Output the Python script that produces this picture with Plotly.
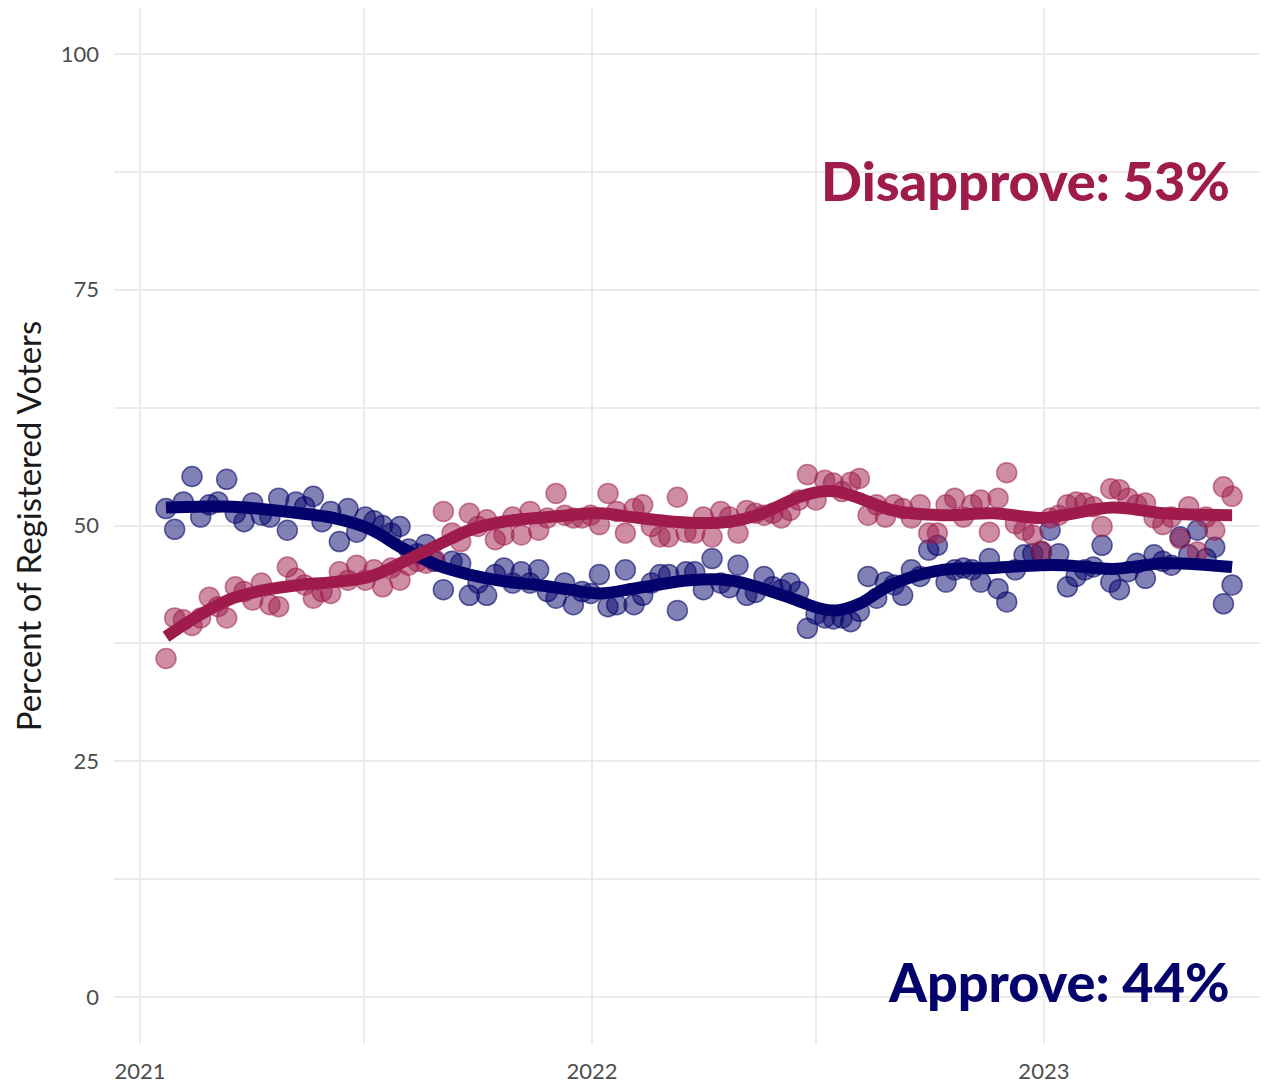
import pandas as pd
import plotly.graph_objects as go

# ---- data (weekly polls) ----
poll_start = "2021-01-22"

approve = [51.8, 49.6, 52.5, 55.2, 50.9, 52.2, 52.5, 54.9, 51.3, 50.4,
           52.4, 51.1, 50.9, 52.9, 49.5, 52.5, 52.0, 53.1, 50.4, 51.5,
           48.3, 51.8, 49.3, 50.9, 50.5, 50.0, 49.2, 49.9, 47.5, 47.0,
           48.0, 46.2, 43.2, 46.2, 46.0, 42.6, 43.9, 42.6, 44.8, 45.5,
           43.9, 45.1, 43.9, 45.3, 43.0, 42.3, 43.9, 41.6, 43.0, 42.8,
           44.8, 41.4, 41.6, 45.3, 41.6, 42.6, 43.9, 44.8, 44.8, 41.0,
           45.1, 45.1, 43.2, 46.5, 43.9, 43.4, 45.8, 42.6, 42.9, 44.6,
           43.5, 43.2, 43.9, 43.0, 39.1, 40.6, 40.2, 40.1, 40.2, 39.8,
           40.9, 44.6, 42.3, 44.0, 43.7, 42.6, 45.3, 44.6, 47.4, 47.9,
           44.0, 45.3, 45.5, 45.3, 44.0, 46.5, 43.3, 41.9, 45.3, 46.9,
           47.0, 47.2, 49.5, 47.0, 43.5, 44.6, 45.3, 45.6, 47.9, 44.0,
           43.2, 45.1, 46.0, 44.4, 46.9, 46.2, 45.8, 48.8, 46.9, 49.5,
           46.5, 47.7, 41.7, 43.7]

disapprove = [35.9, 40.2, 40.0, 39.4, 40.2, 42.4, 41.4, 40.2, 43.5, 43.0,
              42.1, 43.9, 41.6, 41.4, 45.6, 44.4, 43.7, 42.3, 43.0, 42.8,
              45.1, 44.2, 45.8, 44.2, 45.3, 43.5, 45.5, 44.2, 45.8, 46.2,
              46.0, 46.4, 51.5, 49.2, 48.3, 51.3, 49.9, 50.6, 48.5, 49.0,
              50.9, 49.0, 51.5, 49.5, 50.8, 53.4, 51.1, 50.8, 50.8, 51.1,
              50.1, 53.4, 51.5, 49.2, 51.8, 52.2, 49.9, 48.8, 48.8, 53.0,
              49.3, 49.2, 50.9, 48.8, 51.5, 50.9, 49.2, 51.6, 51.3, 51.1,
              51.3, 50.8, 51.6, 52.7, 55.4, 52.7, 54.8, 54.5, 53.6, 54.6,
              55.0, 51.1, 52.2, 50.9, 52.2, 51.8, 50.8, 52.2, 49.2, 49.2,
              52.2, 52.9, 50.9, 52.2, 52.7, 49.3, 52.9, 55.6, 50.2, 49.5,
              49.0, 47.3, 50.8, 51.1, 52.2, 52.5, 52.4, 52.0, 49.9, 53.9,
              53.8, 52.9, 52.2, 52.4, 50.8, 50.1, 50.9, 48.6, 52.0, 47.2,
              50.9, 49.5, 54.1, 53.1]

# smoothed trend
trend_dates = ["2021-01-22", "2021-02-18", "2021-03-17", "2021-04-13", "2021-05-10",
               "2021-06-06", "2021-07-06", "2021-08-01", "2021-08-29", "2021-09-24",
               "2021-10-21", "2021-11-18", "2021-12-14", "2022-01-07", "2022-02-08",
               "2022-03-21", "2022-04-22", "2022-05-19", "2022-06-15", "2022-07-04",
               "2022-07-18", "2022-08-05", "2022-09-01", "2022-10-11", "2022-11-21",
               "2022-12-29", "2023-01-17", "2023-02-26", "2023-04-08", "2023-06-02"]
approve_trend = [51.9, 52.0, 52.0, 51.7, 51.3, 50.8, 49.6, 47.6, 45.8, 44.8,
                 44.1, 43.7, 43.2, 42.8, 43.4, 44.2, 44.2, 43.3, 42.1, 41.2,
                 41.0, 41.7, 43.8, 45.3, 45.5, 45.8, 45.8, 45.4, 46.0, 45.6]
disapprove_trend = [38.2, 40.5, 42.3, 43.2, 43.7, 44.0, 44.6, 46.1, 47.9, 49.5,
                    50.4, 50.8, 51.1, 51.3, 50.8, 50.3, 50.4, 51.3, 52.9, 53.6,
                    53.6, 52.9, 51.6, 51.1, 51.3, 50.8, 51.1, 51.9, 51.3, 51.1]

labels = ["Disapprove: 53%", "Approve: 44%"]
ytitle = "Percent of Registered Voters"

poll_dates = pd.date_range(start=poll_start, periods=len(approve), freq="7D")

NAVY = "#04036b"
CRIMSON = "#9e1b4b"

fig = go.Figure()
fig.add_trace(go.Scatter(
    x=poll_dates, y=approve, mode="markers",
    marker=dict(size=20, color="rgba(4,3,107,0.5)",
                line=dict(color="rgba(4,3,107,0.6)", width=1.5)),
    showlegend=False))
fig.add_trace(go.Scatter(
    x=poll_dates, y=disapprove, mode="markers",
    marker=dict(size=20, color="rgba(158,27,75,0.5)",
                line=dict(color="rgba(158,27,75,0.55)", width=1.5)),
    showlegend=False))
fig.add_trace(go.Scatter(
    x=trend_dates, y=approve_trend, mode="lines",
    line=dict(color=NAVY, width=12, shape="spline", smoothing=1.0),
    showlegend=False))
fig.add_trace(go.Scatter(
    x=trend_dates, y=disapprove_trend, mode="lines",
    line=dict(color=CRIMSON, width=12, shape="spline", smoothing=1.0),
    showlegend=False))

fig.add_annotation(text=labels[0], xref="paper", yref="y", x=0.969, y=86.6,
                   xanchor="right", yanchor="middle", showarrow=False,
                   font=dict(family="Lato", size=54, color=CRIMSON, weight=900))
fig.add_annotation(text=labels[1], xref="paper", yref="y", x=0.969, y=1.7,
                   xanchor="right", yanchor="middle", showarrow=False,
                   font=dict(family="Lato", size=54, color=NAVY, weight=900))

# the page adds an 8px body margin, so the figure is drawn at (8, 8)
fig.update_layout(
    width=1260, height=1076,
    margin=dict(l=106, r=0, t=0, b=40),
    plot_bgcolor="white", paper_bgcolor="white",
    font=dict(family="Lato", color="#4d4d4d"),
    showlegend=False,
)
fig.update_xaxes(
    type="date", range=["2020-12-11", "2023-07-01"],
    tick0="2021-01-01", dtick="M12", tickformat="%Y",
    showgrid=True, gridcolor="#ebebeb", gridwidth=2,
    minor=dict(dtick="M6", tick0="2021-01-01", showgrid=True,
               gridcolor="#ebebeb", gridwidth=1.5),
    zeroline=False, showline=False, ticks="",
    tickfont=dict(family="Lato", size=22, color="#4d4d4d"),
    ticklabelstandoff=12,
)
fig.update_yaxes(
    range=[-4.98, 104.88], tick0=0, dtick=25,
    showgrid=True, gridcolor="#ebebeb", gridwidth=2,
    minor=dict(dtick=12.5, tick0=0, showgrid=True, gridcolor="#ebebeb", gridwidth=1.5),
    zeroline=False, showline=False, ticks="",
    tickfont=dict(family="Lato", size=22, color="#4d4d4d"),
    ticklabelstandoff=14,
    title=dict(text=ytitle, font=dict(family="Lato", size=33, color="#1a1a1a"), standoff=14),
)

fig.write_html("out.html")
